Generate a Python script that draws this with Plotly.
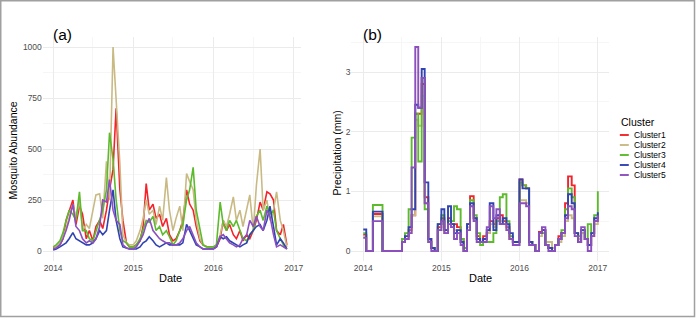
import plotly.graph_objects as go

# ---------------- data ----------------
clusters = ["Cluster1", "Cluster2", "Cluster3", "Cluster4", "Cluster5"]
colors = ["#F5222A", "#C9BA84", "#5CBA2C", "#3043B2", "#8B4FBE"]

# semi-monthly dates
dates_a = [f"{y}-{m:02d}-{d:02d}" for y in (2014, 2015, 2016) for m in range(1, 13) for d in (1, 15)][:71]
dates_b = [f"{y}-{m:02d}-{d:02d}" for y in (2014, 2015, 2016) for m in range(1, 13) for d in (1, 15)] + ["2017-01-01"]

# (a) Mosquito abundance
abund_c1 = [15, 20, 30, 60, 150, 200, 250, 130, 220, 180, 60, 100, 50, 120, 150, 110, 200, 300, 400, 700, 300, 150, 40, 20,
            20, 30, 50, 120, 330, 200, 230, 160, 180, 120, 160, 80, 50, 60, 100, 150, 300, 230, 200, 120, 50, 30, 20, 15,
            15, 20, 60, 150, 100, 130, 80, 60, 100, 50, 80, 60, 100, 150, 240, 200, 290, 280, 250, 100, 80, 130, 30]
abund_c2 = [10, 20, 40, 70, 110, 160, 230, 160, 250, 100, 130, 110, 200, 275, 280, 160, 440, 250, 1000, 720, 430, 80, 40, 30,
            30, 50, 100, 160, 250, 180, 200, 130, 220, 150, 360, 200, 100, 160, 220, 100, 380, 340, 300, 150, 60, 30, 20, 20,
            20, 30, 80, 150, 120, 180, 265, 150, 200, 120, 200, 275, 100, 320, 500, 200, 250, 150, 200, 290, 150, 100, 20]
abund_c3 = [20, 30, 50, 90, 150, 200, 180, 150, 290, 100, 100, 60, 50, 100, 150, 200, 300, 580, 450, 250, 100, 50, 40, 20,
            20, 30, 60, 100, 150, 140, 170, 100, 120, 80, 100, 70, 30, 50, 100, 130, 250, 300, 410, 200, 100, 30, 20, 20,
            20, 30, 240, 130, 100, 150, 120, 150, 100, 60, 50, 80, 100, 170, 200, 150, 220, 180, 200, 100, 60, 30, 10]
abund_c4 = [5, 10, 20, 30, 40, 60, 90, 60, 50, 40, 30, 30, 40, 60, 100, 80, 100, 200, 300, 150, 60, 20, 15, 10,
            10, 10, 20, 40, 50, 70, 50, 30, 20, 30, 40, 30, 30, 30, 30, 40, 130, 100, 60, 30, 20, 10, 10, 10,
            10, 20, 70, 60, 70, 50, 40, 30, 20, 30, 40, 80, 100, 120, 130, 100, 150, 220, 120, 30, 60, 40, 10]
abund_c5 = [10, 15, 30, 60, 100, 150, 230, 120, 100, 60, 40, 50, 40, 60, 120, 250, 240, 350, 200, 150, 130, 30, 15, 10,
            10, 20, 50, 80, 130, 160, 100, 80, 60, 50, 40, 40, 30, 30, 40, 60, 100, 120, 80, 40, 20, 10, 10, 10,
            10, 20, 70, 80, 60, 40, 30, 20, 30, 60, 80, 150, 120, 170, 120, 100, 200, 170, 80, 20, 30, 20, 10]

# (b) Precipitation (mm)
precip_c1 = [0.27, 0, 0, 0.62, 0.62, 0.62, 0, 0, 0, 0, 0, 0, 0.15, 0.2, 0.35, 0.6, 2.3, 2.3, 2.8, 0.9, 0.2, 0.05, 0.0, 0.4,
             0.55, 0.3, 0.55, 0.45, 0.45, 0.4, 0.2, 0.0, 0.45, 0.92, 0.55, 0.25, 0.15, 0.25, 0.3, 0.5, 0.45, 0.55, 0.6, 0.5, 0.4, 0.2, 0.15, 0.15,
             1.2, 1.1, 1.05, 0.15, 0.1, 0.0, 0.32, 0.35, 0.1, 0.05, 0.0, 0.1, 0.25, 0.3, 0.8, 1.25, 1.1, 0.3, 0.15, 0.3, 0.2, 0.1, 0.25, 0.5, 0.6]
precip_c2 = [0.25, 0, 0, 0.58, 0.58, 0.58, 0, 0, 0, 0, 0, 0, 0.2, 0.2, 0.3, 0.6, 2.2, 2.1, 2.6, 0.8, 0.15, 0.05, 0.0, 0.35,
             0.5, 0.3, 0.5, 0.4, 0.35, 0.3, 0.15, 0.0, 0.4, 0.75, 0.5, 0.2, 0.15, 0.15, 0.3, 0.45, 0.4, 0.5, 0.5, 0.45, 0.35, 0.2, 0.1, 0.1,
             0.85, 0.85, 0.8, 0.1, 0.1, 0.0, 0.25, 0.3, 0.15, 0.15, 0.05, 0.1, 0.15, 0.25, 0.5, 0.6, 0.55, 0.3, 0.2, 0.3, 0.2, 0.1, 0.25, 0.45, 0.55]
precip_c3 = [0.3, 0, 0, 0.77, 0.77, 0.77, 0, 0, 0, 0, 0, 0, 0.2, 0.3, 0.7, 1.9, 2.3, 1.5, 2.9, 0.7, 0.15, 0.05, 0.0, 0.45,
             0.6, 0.35, 0.5, 0.5, 0.75, 0.7, 0.2, 0.05, 0.45, 0.85, 0.6, 0.3, 0.1, 0.15, 0.15, 0.15, 0.3, 0.5, 0.9, 0.95, 0.5, 0.25, 0.15, 0.15,
             1.15, 1.1, 1.05, 0.15, 0.1, 0.0, 0.3, 0.3, 0.1, 0.05, 0.0, 0.1, 0.2, 0.35, 0.7, 1.05, 0.9, 0.3, 0.25, 0.35, 0.2, 0.45, 0.3, 0.6, 1.0]
precip_c4 = [0.36, 0, 0, 0.66, 0.66, 0.66, 0, 0, 0, 0, 0, 0, 0.15, 0.25, 0.4, 0.7, 2.45, 2.4, 3.05, 1.15, 0.2, 0.05, 0.0, 0.45,
             0.7, 0.35, 0.75, 0.45, 0.3, 0.35, 0.15, 0.0, 0.45, 0.8, 0.55, 0.2, 0.15, 0.2, 0.35, 0.8, 0.35, 0.6, 0.45, 0.55, 0.45, 0.3, 0.15, 0.15,
             1.2, 1.05, 1.05, 0.15, 0.1, 0.0, 0.3, 0.35, 0.1, 0.05, 0.0, 0.1, 0.2, 0.3, 0.6, 0.95, 0.8, 0.3, 0.15, 0.35, 0.2, 0.1, 0.3, 0.55, 0.65]
precip_c5 = [0.22, 0, 0, 0.5, 0.5, 0.5, 0, 0, 0, 0, 0, 0, 0.15, 0.2, 0.3, 1.4, 3.42, 2.4, 2.9, 0.8, 0.15, 0.0, 0.0, 0.35,
             0.5, 0.3, 0.45, 0.4, 0.2, 0.3, 0.1, 0.0, 0.35, 0.75, 0.5, 0.15, 0.15, 0.15, 0.4, 0.75, 0.55, 0.7, 0.45, 0.45, 0.35, 0.2, 0.1, 0.1,
             0.8, 0.8, 0.75, 0.1, 0.1, 0.0, 0.3, 0.4, 0.1, 0.0, 0.0, 0.1, 0.2, 0.3, 0.55, 0.75, 0.7, 0.25, 0.15, 0.4, 0.2, 0.0, 0.25, 0.5, 0.6]

abund = [abund_c1, abund_c2, abund_c3, abund_c4, abund_c5]
precip = [precip_c1, precip_c2, precip_c3, precip_c4, precip_c5]

# ---------------- figure ----------------
W, H = 700, 318
FONT = "Liberation Sans, Arial, Helvetica, sans-serif"
GRID = "#EBEBEB"
MINOR = "#F6F6F6"
TICK = "#4D4D4D"


def px(x):
    return x / W


def py(y):
    return 1 - y / H


fig = go.Figure()
for name, col, ya in zip(clusters, colors, abund):
    fig.add_trace(go.Scatter(x=dates_a[:len(ya)], y=ya, mode="lines", name=name,
                             line=dict(color=col, width=1.6), xaxis="x", yaxis="y",
                             showlegend=False))
for name, col, yb in zip(clusters, colors, precip):
    fig.add_trace(go.Scatter(x=dates_b[:len(yb)], y=yb, mode="lines", name=name,
                             line=dict(color=col, width=1.9, shape="hv"), xaxis="x2", yaxis="y2",
                             showlegend=False))

ydom = [py(261.2), py(36.8)]
xaxis_common = dict(type="date", dtick="M12", tick0="2014-01-01", tickformat="%Y",
                    showgrid=True, gridcolor=GRID, gridwidth=1, zeroline=False, showline=False,
                    ticks="", tickfont=dict(family=FONT, size=8.5, color=TICK),
                    minor=dict(dtick="M6", tick0="2014-01-01", showgrid=True, gridcolor=MINOR, gridwidth=1))
yaxis_common = dict(showgrid=True, gridcolor=GRID, gridwidth=1, zeroline=False, showline=False,
                    ticks="", tickfont=dict(family=FONT, size=8.5, color=TICK))

fig.update_layout(
    width=W, height=H,
    margin=dict(l=0, r=0, t=0, b=0),
    paper_bgcolor="white", plot_bgcolor="white",
    font=dict(family=FONT, color="black"),
    xaxis=dict(domain=[px(43), px(302)], range=["2013-11-15", "2017-02-02"], anchor="y", **xaxis_common),
    yaxis=dict(domain=ydom, range=[-50, 1050], tickvals=[0, 250, 500, 750, 1000], anchor="x",
               minor=dict(tickvals=[125, 375, 625, 875], showgrid=True, gridcolor=MINOR), **yaxis_common),
    xaxis2=dict(domain=[px(353), px(612)], range=["2013-11-07", "2017-02-24"], anchor="y2", **xaxis_common),
    yaxis2=dict(domain=ydom, range=[-0.171, 3.59], tickvals=[0, 1, 2, 3], anchor="x2",
                minor=dict(tickvals=[0.5, 1.5, 2.5, 3.5], showgrid=True, gridcolor=MINOR), **yaxis_common),
)

ann = []


def add_text(text, x, y, size, xanchor="center", yanchor="middle", angle=0, color="black"):
    ann.append(dict(text=text, x=px(x), y=py(y), xref="paper", yref="paper", showarrow=False,
                    xanchor=xanchor, yanchor=yanchor, textangle=angle,
                    font=dict(family=FONT, size=size, color=color)))


add_text("(a)", 51, 35, 15.5, xanchor="left")
add_text("(b)", 363, 35, 15.5, xanchor="left")
add_text("Mosquito Abundance", 13.5, 150, 10.5, angle=-90)
add_text("Precipitation (mm)", 338, 153, 10.5, angle=-90)
add_text("Date", 171, 277.5, 11)
add_text("Date", 482.5, 277.5, 11)

# legend (manual)
add_text("Cluster", 621.5, 122, 10.5, xanchor="left")
shapes = []
for i, (name, col) in enumerate(zip(clusters, colors)):
    yy = 135 + 10 * i
    shapes.append(dict(type="line", xref="paper", yref="paper", x0=px(622.5), x1=px(631.5),
                       y0=py(yy), y1=py(yy), line=dict(color=col, width=1.9)))
    add_text(name, 635, yy, 8.5, xanchor="left")

# outer frame
shapes.append(dict(type="rect", xref="paper", yref="paper", x0=px(0.75), x1=px(697.5),
                   y0=py(316.5), y1=py(0.75), line=dict(color="#A0A0A0", width=1.5), layer="above"))

fig.update_layout(annotations=ann, shapes=shapes)
fig.write_html("out.html")
